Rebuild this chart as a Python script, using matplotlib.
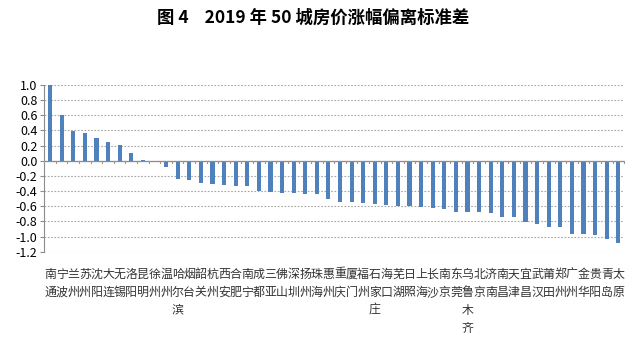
import matplotlib
matplotlib.use("Agg")
import matplotlib.pyplot as plt
import matplotlib.transforms as mtransforms

plt.rcParams['font.family'] = ['Noto Sans CJK SC', 'DejaVu Sans']

cities = ["南通", "宁波", "兰州", "苏州", "沈阳", "大连", "无锡", "洛阳", "昆明", "徐州",
          "温州", "哈尔滨", "烟台", "韶关", "杭州", "西安", "合肥", "南宁", "成都", "三亚",
          "佛山", "深圳", "扬州", "珠海", "惠州", "重庆", "厦门", "福州", "石家庄", "海口",
          "芜湖", "日照", "上海", "长沙", "南京", "东莞", "乌鲁木齐", "北京", "济南", "南昌",
          "天津", "宜昌", "武汉", "莆田", "郑州", "广州", "金华", "贵阳", "青岛", "太原"]
values = [1.00, 0.60, 0.39, 0.37, 0.30, 0.25, 0.21, 0.105, 0.013, -0.013,
          -0.088, -0.24, -0.26, -0.30, -0.31, -0.32, -0.33, -0.34, -0.40, -0.41,
          -0.43, -0.43, -0.44, -0.44, -0.50, -0.54, -0.55, -0.56, -0.57, -0.58,
          -0.60, -0.60, -0.61, -0.62, -0.64, -0.67, -0.67, -0.68, -0.69, -0.74,
          -0.74, -0.81, -0.84, -0.88, -0.88, -0.97, -0.97, -0.975, -1.03, -1.08]
yticks = [1.0, 0.8, 0.6, 0.4, 0.2, 0.0, -0.2, -0.4, -0.6, -0.8, -1.0, -1.2]

fig = plt.figure(figsize=(6.4, 3.47), dpi=100)
ax = fig.add_axes([0.0692, 0.2746, 0.906, 0.481])

x = list(range(1, len(values) + 1))
ax.bar(x, values, width=0.36, color="#4F81BD", zorder=3)

ax.set_xlim(0.5, len(values) + 0.5)
ax.set_ylim(-1.2, 1.0)
ax.set_yticks(yticks)
ax.set_yticklabels(["%.1f" % v for v in yticks], fontsize=9)
ax.yaxis.grid(True, linestyle=(0, (1.5, 1.5)), color="#A6A6A6", linewidth=0.8, zorder=0)

for s in ["top", "right", "bottom"]:
    ax.spines[s].set_visible(False)
ax.spines["left"].set_color("#8C8C8C")
ax.tick_params(axis="y", length=3, color="#8C8C8C", pad=2)

# x axis line at zero with ticks between the bars
ax.axhline(0, color="#8C8C8C", linewidth=0.9, zorder=4)
ax.set_xticks([])
for b in range(len(values) + 1):
    ax.plot([b + 0.5, b + 0.5], [0, -0.035], color="#B09080", linewidth=0.8, zorder=4,
            clip_on=False)

# vertical stacked city names
trans = mtransforms.blended_transform_factory(ax.transData, ax.transAxes)
for xi, name in zip(x, cities):
    ax.text(xi, -0.095, "\n".join(name), transform=trans, ha="center", va="top",
            fontsize=8.6, linespacing=1.5, color="#333333")

fig.text(0.49, 0.95, "图 4    2019 年 50 城房价涨幅偏离标准差", ha="center", va="center",
         fontsize=12.5, fontweight="bold")

fig.savefig("out.png", dpi=100)
